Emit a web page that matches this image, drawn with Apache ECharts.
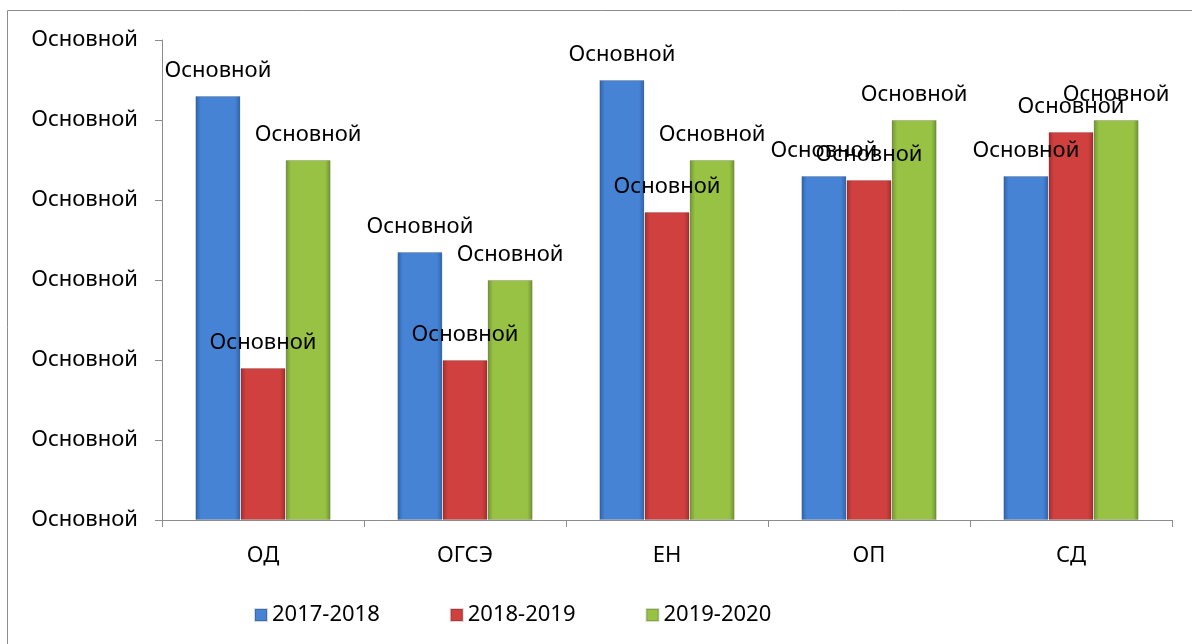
<!DOCTYPE html>
<html>
<head>
<meta charset="utf-8">
<script src="https://cdn.jsdelivr.net/npm/echarts@6/dist/echarts.min.js"></script>
<style>
    html, body { margin: 0; padding: 0; background: #fff; }
    #chart { width: 1192px; height: 644px; }
</style>
</head>
<body>
<div id="chart"></div>
<script>
    // данные
    var categories = ['ОД', 'ОГСЭ', 'ЕН', 'ОП', 'СД'];
    var seriesNames = ['2017-2018', '2018-2019', '2019-2020'];
    var v2017 = [5.3, 3.35, 5.5, 4.3, 4.3];
    var v2018 = [1.9, 2.0, 3.85, 4.25, 4.85];
    var v2019 = [4.5, 3.0, 4.5, 5.0, 5.0];
    var tickLabel = 'Основной';
    var pointLabel = 'Основной';

    var font = 'Noto Sans';
    var fs = 22;

    function grad(edge, mid) {
        return new echarts.graphic.LinearGradient(0, 0, 1, 0, [
            { offset: 0, color: edge },
            { offset: 0.12, color: mid },
            { offset: 0.88, color: mid },
            { offset: 1, color: edge }
        ]);
    }

    var colors = [
        grad('#2d62ab', '#4683d4'),
        grad('#a02f2e', '#d0403e'),
        grad('#6f9234', '#97c243')
    ];
    var legendColors = ['#3f78c6', '#c23b39', '#8ab33e'];
    var values = [v2017, v2018, v2019];

    var series = [];
    for (var i = 0; i < seriesNames.length; i++) {
        series.push({
            name: seriesNames[i],
            type: 'bar',
            data: values[i],
            barGap: '0%',
            barCategoryGap: '33%',
            itemStyle: { color: colors[i], borderColor: 'rgba(0,0,0,0.15)', borderWidth: 1 },
            label: {
                show: true,
                position: 'top',
                distance: 14,
                formatter: pointLabel,
                color: '#000',
                fontSize: fs,
                fontFamily: font
            }
        });
    }

    var option = {
        animation: false,
        color: legendColors,
        textStyle: { fontFamily: font },
        graphic: [{
            type: 'rect',
            shape: { x: 7.5, y: 10.5, width: 1200, height: 700 },
            style: { fill: 'none', stroke: '#8c8c8c', lineWidth: 1 },
            silent: true
        }],
        grid: { left: 162, right: 20, top: 40, bottom: 124 },
        legend: {
            left: 249,
            top: 599,
            itemWidth: 12,
            itemHeight: 12,
            itemGap: 70,
            icon: 'rect',
            textStyle: { fontSize: fs, color: '#000', fontFamily: font },
            data: seriesNames
        },
        xAxis: {
            type: 'category',
            data: categories,
            axisLine: { lineStyle: { color: '#8c8c8c', width: 1 } },
            axisTick: { show: true, length: 7, lineStyle: { color: '#8c8c8c' } },
            axisLabel: { color: '#000', fontSize: fs, margin: 25, fontFamily: font }
        },
        yAxis: {
            type: 'value',
            min: 0,
            max: 6,
            interval: 1,
            axisLine: { show: true, lineStyle: { color: '#8c8c8c', width: 1 } },
            axisTick: { show: true, length: 7, lineStyle: { color: '#8c8c8c' } },
            splitLine: { show: false },
            axisLabel: {
                color: '#000',
                fontSize: fs,
                margin: 24,
                fontFamily: font,
                formatter: function () { return tickLabel; }
            }
        },
        series: series
    };

    var chart = echarts.init(document.getElementById('chart'));
    chart.setOption(option);
</script>
</body>
</html>
